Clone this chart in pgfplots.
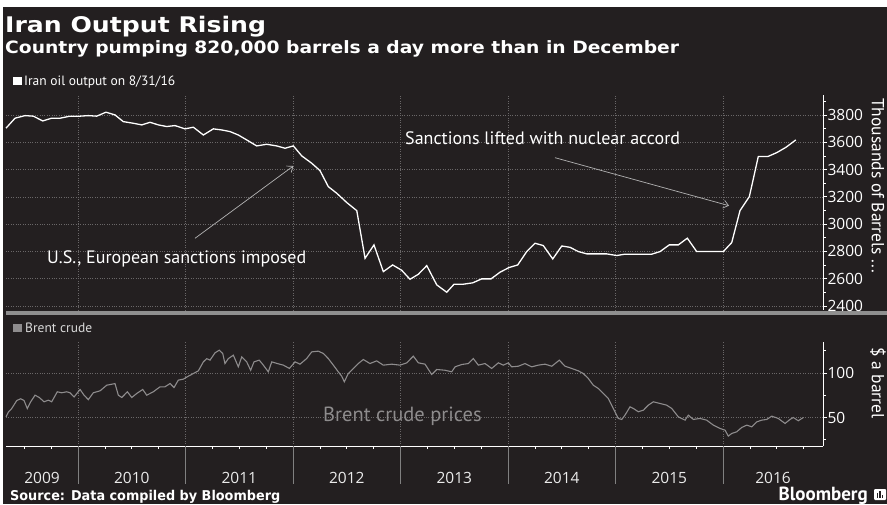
\documentclass[border=0pt]{standalone}
\usepackage{fontspec}
\setmainfont{PT Sans}
\newfontfamily\titlefont[FakeStretch=1.17]{DejaVu Sans Bold}
\newfontfamily\subfont[FakeStretch=1.1]{DejaVu Sans Bold}
\newfontfamily\srcfont[FakeStretch=0.95]{DejaVu Sans Bold}
\newfontfamily\tickfont{Open Sans}
\usepackage{pgfplots}
\pgfplotsset{compat=1.18}
\usetikzlibrary{arrows.meta}
\definecolor{bg}{HTML}{231F20}
\definecolor{gridc}{HTML}{6A6768}
\definecolor{brent}{HTML}{8E8C8D}
\definecolor{sepc}{HTML}{8F8F8F}
\definecolor{arrowc}{HTML}{B4B4B4}
\begin{document}
\begin{tikzpicture}[x=1pt,y=1pt]
\fill[white] (0,0) rectangle (887,504);
\useasboundingbox (0,0) rectangle (887,504);
\fill[bg] (3,0) rectangle (887,497);
% titles
\node[anchor=base west, text=white, inner sep=0] at (5,471) {\titlefont\fontsize{21.5}{21.5}\selectfont Iran Output Rising};
\node[anchor=base west, text=white, inner sep=0] at (5,450) {\subfont\fontsize{17}{17}\selectfont Country pumping 820,000 barrels a day more than in December};
\fill[white] (13,419) rectangle (22,427);
\node[anchor=base west, text=white, inner sep=0] at (24,418.5) {\fontsize{13.5}{13.5}\selectfont Iran oil output on 8/31/16};
% separator
\fill[sepc] (6,189) rectangle (887,193);
% ---------------- top panel ----------------
\begin{axis}[
  at={(6pt,194pt)}, anchor=south west, scale only axis,
  width=817pt, height=215pt,
  xmin=2009.33, xmax=2016.93, ymin=2371, ymax=3946,
  axis y line*=right, axis x line*=bottom,
  x axis line style={draw=none},
  y axis line style={white, line width=0.8pt, -},
  xtick={2010,2011,2012,2013,2014,2015,2016}, xticklabels={},
  x tick style={draw=none},
  ytick={2400,2600,2800,3000,3200,3400,3600,3800},
  minor ytick={2500,2700,2900,3100,3300,3500,3700,3900},
  tick align=outside, major tick length=4pt, minor tick length=2.5pt,
  y tick style={white, line width=0.7pt},
  xmajorgrids, ymajorgrids,
  major grid style={gridc, dotted, line width=0.6pt},
  yticklabel style={text=white, font=\tickfont\fontsize{15.5}{15.5}\selectfont, xshift=-3pt},
  /pgf/number format/1000 sep={}, /pgf/number format/assume math mode=true,
  clip=false,
]
\addplot[white, line width=1.3pt] coordinates {
(2009.330,3703) (2009.414,3776) (2009.507,3795) (2009.584,3791) (2009.672,3756)
(2009.755,3776) (2009.833,3776) (2009.926,3791) (2010.019,3791) (2010.096,3795)
(2010.174,3791) (2010.260,3820) (2010.344,3800) (2010.421,3751) (2010.514,3739)
(2010.593,3727) (2010.670,3746) (2010.747,3727) (2010.825,3715) (2010.902,3722)
(2010.995,3698) (2011.073,3710) (2011.166,3653) (2011.259,3698) (2011.337,3690)
(2011.414,3678) (2011.491,3653) (2011.569,3617) (2011.662,3573) (2011.755,3585)
(2011.848,3573) (2011.926,3556) (2012.003,3573) (2012.081,3500) (2012.174,3446)
(2012.251,3392) (2012.328,3275) (2012.407,3226) (2012.500,3158) (2012.593,3099)
(2012.670,2750) (2012.753,2848) (2012.840,2652) (2012.927,2701) (2013.011,2662)
(2013.088,2596) (2013.166,2633) (2013.244,2696) (2013.337,2555) (2013.430,2501)
(2013.498,2560) (2013.584,2560) (2013.672,2570) (2013.755,2599) (2013.842,2599)
(2013.926,2648) (2014.009,2682) (2014.090,2701) (2014.174,2799) (2014.251,2860)
(2014.328,2843) (2014.416,2745) (2014.500,2840) (2014.577,2830) (2014.654,2799)
(2014.733,2782) (2014.826,2782) (2014.918,2782) (2015.011,2770) (2015.088,2780)
(2015.166,2780) (2015.259,2780) (2015.337,2780) (2015.414,2799) (2015.500,2848)
(2015.584,2848) (2015.668,2897) (2015.755,2799) (2015.842,2799) (2015.926,2799)
(2016.003,2799) (2016.081,2865) (2016.158,3099) (2016.245,3202) (2016.328,3495)
(2016.416,3495) (2016.500,3524) (2016.586,3563) (2016.677,3617)
};
\end{axis}
% ---------------- bottom panel ----------------
\begin{axis}[
  at={(6pt,58pt)}, anchor=south west, scale only axis,
  width=817pt, height=104.3pt,
  xmin=2009.33, xmax=2016.93, ymin=18, ymax=135,
  axis y line*=right, axis x line*=bottom,
  axis line style={white, line width=0.8pt, -},
  xtick={2009.665,2010.5,2011.5,2012.5,2013.5,2014.5,2015.5,2016.465},
  xticklabels={2009,2010,2011,2012,2013,2014,2015,2016},
  major x tick style={draw=none},
  minor xtick={2009.5,2009.75,2010.25,2010.5,2010.75,2011.25,2011.5,2011.75,2012.25,2012.5,2012.75,2013.25,2013.5,2013.75,2014.25,2014.5,2014.75,2015.25,2015.5,2015.75,2016.25,2016.5,2016.75},
  extra x ticks={2010,2011,2012,2013,2014,2015,2016},
  extra x tick labels={},
  extra x tick style={grid=major, major tick length=0pt},
  ytick={50,100}, minor ytick={25,75,125},
  tick align=outside, major tick length=4pt, minor tick length=3pt,
  tick style={white, line width=0.7pt},
  ymajorgrids,
  major grid style={gridc, dotted, line width=0.6pt},
  yticklabel style={text=white, font=\tickfont\fontsize{15.5}{15.5}\selectfont, xshift=-3pt},
  xticklabel style={text=white!92!black, font=\tickfont\fontsize{15.5}{15.5}\selectfont, anchor=base, yshift=-33pt},
  /pgf/number format/1000 sep={}, /pgf/number format/assume math mode=true,
  clip=false,
]
\addplot[brent, line width=1.1pt] coordinates {
(2009.330,50.7) (2009.352,56) (2009.383,60) (2009.430,69) (2009.467,71) (2009.498,69)
(2009.528,60) (2009.560,67.6) (2009.600,75) (2009.640,72.4) (2009.684,67.6) (2009.724,69.4)
(2009.755,67.6) (2009.807,78.8) (2009.848,77.7) (2009.895,78.8) (2009.926,77.7) (2009.963,73)
(2010.019,81.4) (2010.056,75) (2010.096,70) (2010.142,77.7) (2010.205,79.9) (2010.267,86.2)
(2010.344,88) (2010.375,75) (2010.407,72.4) (2010.459,78.8) (2010.500,72.4) (2010.546,76.9)
(2010.602,81.4) (2010.639,75) (2010.700,78.8) (2010.763,84.4) (2010.809,84.4) (2010.856,88.1)
(2010.893,83.6) (2010.933,91.9) (2010.980,93) (2011.026,96.3) (2011.073,99.3) (2011.119,102.3)
(2011.166,112.4) (2011.197,116) (2011.228,114.3) (2011.274,122.5) (2011.314,125.5) (2011.346,121.8)
(2011.367,110.5) (2011.398,116) (2011.445,119.9) (2011.491,106.8) (2011.523,118) (2011.569,112.4)
(2011.606,103) (2011.637,112.4) (2011.686,114.3) (2011.724,108.7) (2011.770,101.2) (2011.802,112.4)
(2011.854,110.5) (2011.910,108.7) (2011.966,105) (2012.019,112.4) (2012.065,109.8) (2012.127,116.1)
(2012.174,123.6) (2012.235,124.4) (2012.282,121.8) (2012.328,116.1) (2012.375,108.7) (2012.421,101.2)
(2012.453,96.3) (2012.477,90) (2012.514,99.3) (2012.561,105) (2012.607,110.5) (2012.654,115)
(2012.716,110.5) (2012.778,113.5) (2012.840,108.7) (2012.918,109.8) (2012.995,108.7) (2013.058,111.3)
(2013.119,118.8) (2013.166,111.3) (2013.228,109.8) (2013.290,98.2) (2013.337,103.8) (2013.414,103)
(2013.476,101.2) (2013.507,106.8) (2013.569,109.4) (2013.631,110.5) (2013.677,116.1) (2013.724,108.7)
(2013.786,110.5) (2013.848,105) (2013.910,111.3) (2013.956,108.7) (2014.003,111.3) (2014.034,106.8)
(2014.096,107.5) (2014.158,110.5) (2014.220,106.8) (2014.282,108.7) (2014.344,109.8) (2014.407,107.5)
(2014.477,114.3) (2014.530,107.5) (2014.592,105) (2014.654,102.3) (2014.700,99.3) (2014.747,93.7)
(2014.793,86.2) (2014.840,82.5) (2014.887,76.9) (2014.933,71.3) (2014.979,60.1) (2015.026,48.9)
(2015.058,47.8) (2015.088,52.6) (2015.135,62) (2015.166,60.1) (2015.212,56.4) (2015.259,58.2)
(2015.305,63.8) (2015.352,67.6) (2015.414,65.7) (2015.476,63.8) (2015.523,60.1) (2015.584,50.7)
(2015.647,47) (2015.677,52.6) (2015.724,47.8) (2015.786,48.9) (2015.848,47) (2015.910,41.4)
(2015.972,37.7) (2016.019,35.8) (2016.049,29.1) (2016.081,32.1) (2016.127,33.9) (2016.174,38.8)
(2016.221,41.4) (2016.267,39.5) (2016.314,45.1) (2016.360,47) (2016.407,47.8) (2016.453,51.5)
(2016.514,48.9) (2016.577,43.3) (2016.623,47.8) (2016.654,50) (2016.700,46.3) (2016.747,50)
};
\pgfplotsinvokeforeach{2010,2011,2012,2013,2014,2015,2016}{
  \draw[gray, line width=0.9pt] (axis cs:#1,18) -- ++(0pt,-38pt);
}
\end{axis}
% legend bottom
\fill[brent] (13,172) rectangle (22,180);
\node[anchor=base west, text=white!85!black, inner sep=0] at (25,171.5) {\fontsize{13.5}{13.5}\selectfont Brent crude};
% annotations
\node[anchor=base west, text=white, inner sep=0] at (405,359) {\fontsize{18}{18}\selectfont Sanctions lifted with nuclear accord};
\draw[arrowc, line width=0.7pt, -{Straight Barb[length=5pt,width=8pt]}] (555,346.3) -- (729,298.3);
\node[anchor=base west, text=white, inner sep=0] at (47,240.7) {\fontsize{18}{18}\selectfont U.S., European sanctions imposed};
\draw[arrowc, line width=0.7pt, -{Straight Barb[length=5pt,width=8pt]}] (195,265.7) -- (293.3,338);
\node[anchor=base west, text=brent, inner sep=0] at (323,82.3) {\fontsize{20.5}{20.5}\selectfont Brent crude prices};
% axis titles
\node[rotate=-90, anchor=west, text=white, inner sep=0] at (878,406) {\fontsize{17.5}{17.5}\selectfont Thousands of Barrels ...};
\node[rotate=-90, anchor=west, text=white, inner sep=0] at (878,157) {\fontsize{17.5}{17.5}\selectfont \$ a barrel};
% source and logo
\node[anchor=base west, text=white, inner sep=0] at (10,4) {\srcfont\fontsize{13.5}{13.5}\selectfont Source: Data compiled by Bloomberg};
\node[anchor=base east, text=white, inner sep=0] at (868,4) {\fontsize{19}{19}\selectfont\bfseries Bloomberg};
\fill[white, rounded corners=1pt] (874,4) rectangle (886,15);
\fill[bg] (876.5,6) rectangle (877.8,11);
\fill[bg] (879.3,6) rectangle (880.6,13);
\fill[bg] (882.1,6) rectangle (883.4,9.5);
\end{tikzpicture}
\end{document}
